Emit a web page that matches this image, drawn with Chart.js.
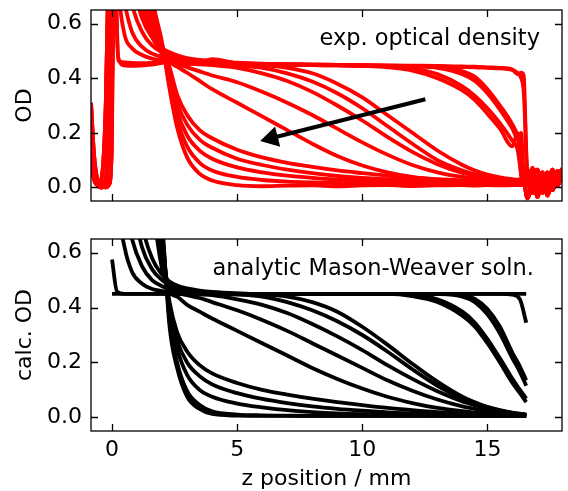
<!DOCTYPE html>
<html>
<head>
<meta charset="utf-8">
<script src="https://cdn.jsdelivr.net/npm/chart.js@4.4.1/dist/chart.umd.min.js"></script>
<style>
  html, body { margin: 0; padding: 0; background: #fff; }
  #page { position: relative; width: 568px; height: 491px; }
  #expChart { position: absolute; left: 0; top: 0; }
  #calcChart { position: absolute; left: 0; top: 210px; }
</style>
</head>
<body>
<div id="page">
  <canvas id="expChart" width="568" height="210"></canvas>
  <canvas id="calcChart" width="568" height="281"></canvas>
</div>
<script>
// axes
const zTicks = [0, 5, 10, 15];
const odTicks = [0, 0.2, 0.4, 0.6];
const zRange = [-0.84, 17.98];
const odRange = [-0.05, 0.65];

// ---- experimental profiles (top) ----
const zExp = [-0.84, -0.72, -0.6, -0.45, -0.25, -0.12, -0.02,
  0.1, 0.25, 0.5, 0.8, 1.2, 1.6, 2.0, 2.3, 2.6, 3, 3.5, 4, 5, 6, 7, 8, 9, 10, 11, 12, 13, 14, 14.5, 15, 15.5, 16, 16.2, 16.35, 16.45,
  16.6, 16.8, 17, 17.2, 17.4, 17.6, 17.8, 17.98];

// meniscus region left of the cell
const menA = [0.31, 0.12, 0.035, 0.01, 0.005, 0.02, 0.3];
const menB = [0.2, 0.06, 0.015, 0.0, 0.01, 0.15, 0.7];
const menC = [0.15, 0.04, 0.01, 0.005, 0.03, 0.35, 0.95];
const menD = [0.25, 0.09, 0.025, 0.02, 0.0, 0.01, 0.12];
const menE = [0.1, 0.03, 0.01, 0.02, 0.3, 0.9, 1.2];
// noisy region right of the cell
const tailA = [0.01, 0.06, -0.035, 0.045, 0.0, 0.065, 0.01, 0.07];
const tailB = [0.05, -0.02, 0.04, -0.005, 0.055, 0.015, 0.06, 0.02];
const tailC = [-0.04, 0.03, 0.065, -0.02, 0.04, -0.01, 0.05, 0.06];
const tailD = [0.025, 0.07, -0.01, 0.055, -0.03, 0.04, 0.005, 0.05];

const expA = menA.concat([0.8, 0.465, 0.458, 0.456, 0.455, 0.456, 0.458, 0.466, 0.457, 0.455, 0.457, 0.47, 0.455, 0.452, 0.451, 0.45, 0.449, 0.448, 0.447, 0.446, 0.445, 0.443, 0.442, 0.44, 0.438, 0.432, 0.415, 0.42, 0.41], tailA);
const expB = menD.concat([0.85, 0.475, 0.447, 0.445, 0.447, 0.45, 0.456, 0.462, 0.455, 0.452, 0.454, 0.46, 0.452, 0.45, 0.449, 0.448, 0.447, 0.446, 0.445, 0.444, 0.443, 0.441, 0.44, 0.438, 0.436, 0.43, 0.42, 0.4, 0.35], tailB);
const expC1 = menB.concat([0.95, 0.72, 0.56, 0.51, 0.485, 0.472, 0.466, 0.47, 0.46, 0.457, 0.456, 0.458, 0.452, 0.45, 0.449, 0.448, 0.447, 0.446, 0.445, 0.444, 0.44, 0.425, 0.405, 0.36, 0.3, 0.23, 0.19, 0.12, 0.06], tailC);
const expC2 = menC.concat([1.05, 0.85, 0.68, 0.57, 0.515, 0.49, 0.478, 0.474, 0.466, 0.461, 0.458, 0.46, 0.453, 0.451, 0.45, 0.449, 0.448, 0.447, 0.446, 0.445, 0.438, 0.415, 0.39, 0.345, 0.285, 0.215, 0.18, 0.2, 0.03], tailD);
const expC3 = menA.concat([1.2, 1.05, 0.83, 0.67, 0.57, 0.52, 0.495, 0.485, 0.476, 0.468, 0.463, 0.462, 0.455, 0.452, 0.451, 0.45, 0.449, 0.447, 0.444, 0.435, 0.415, 0.37, 0.335, 0.29, 0.235, 0.17, 0.14, 0.05, 0.02], tailA);
const expC4 = menE.concat([1.3, 1.2, 0.98, 0.77, 0.62, 0.55, 0.51, 0.495, 0.484, 0.474, 0.467, 0.465, 0.457, 0.453, 0.451, 0.45, 0.448, 0.445, 0.44, 0.428, 0.4, 0.355, 0.32, 0.27, 0.215, 0.15, 0.2, 0.04, 0.01], tailB);
const expD1 = menB.concat([1.4, 1.3, 1.05, 0.8, 0.64, 0.55, 0.49, 0.47, 0.462, 0.458, 0.457, 0.46, 0.453, 0.448, 0.438, 0.418, 0.38, 0.33, 0.265, 0.2, 0.135, 0.082, 0.062, 0.047, 0.037, 0.03, 0.028, 0.03, 0.02], tailC);
const expD2 = menC.concat([1.4, 1.35, 1.1, 0.85, 0.67, 0.56, 0.495, 0.47, 0.461, 0.457, 0.455, 0.455, 0.446, 0.438, 0.418, 0.388, 0.345, 0.29, 0.225, 0.16, 0.1, 0.062, 0.048, 0.038, 0.031, 0.027, 0.025, 0.025, 0.02], tailD);
const expD3 = menD.concat([1.4, 1.4, 1.15, 0.9, 0.7, 0.575, 0.5, 0.468, 0.458, 0.454, 0.451, 0.448, 0.438, 0.418, 0.39, 0.35, 0.3, 0.245, 0.185, 0.13, 0.085, 0.053, 0.043, 0.035, 0.029, 0.025, 0.024, 0.024, 0.02], tailA);
const expD4 = menE.concat([1.4, 1.45, 1.2, 0.95, 0.73, 0.59, 0.5, 0.465, 0.452, 0.44, 0.425, 0.41, 0.385, 0.35, 0.31, 0.265, 0.215, 0.165, 0.12, 0.082, 0.055, 0.038, 0.033, 0.03, 0.027, 0.025, 0.024, 0.024, 0.02], tailB);
const expD5 = menA.concat([1.4, 1.5, 1.25, 1.0, 0.75, 0.6, 0.505, 0.46, 0.442, 0.42, 0.39, 0.36, 0.31, 0.26, 0.21, 0.16, 0.115, 0.08, 0.055, 0.038, 0.028, 0.022, 0.02, 0.019, 0.018, 0.018, 0.018, 0.02, 0.02], tailC);
const expE1 = menB.concat([1.5, 1.55, 1.3, 1.05, 0.78, 0.62, 0.51, 0.44, 0.34, 0.265, 0.21, 0.18, 0.138, 0.11, 0.09, 0.075, 0.062, 0.052, 0.043, 0.036, 0.03, 0.026, 0.024, 0.022, 0.021, 0.02, 0.02, 0.02, 0.02], tailD);
const expE2 = menC.concat([1.5, 1.6, 1.35, 1.1, 0.82, 0.63, 0.515, 0.42, 0.31, 0.23, 0.175, 0.145, 0.105, 0.082, 0.065, 0.052, 0.042, 0.035, 0.03, 0.026, 0.022, 0.02, 0.019, 0.018, 0.018, 0.018, 0.018, 0.018, 0.018], tailA);
const expE3 = menE.concat([1.5, 1.7, 1.45, 1.2, 0.86, 0.64, 0.52, 0.4, 0.28, 0.19, 0.135, 0.105, 0.073, 0.055, 0.043, 0.035, 0.029, 0.025, 0.022, 0.02, 0.018, 0.017, 0.016, 0.016, 0.016, 0.016, 0.016, 0.016, 0.016], tailB);
const expE4 = menD.concat([1.5, 1.8, 1.55, 1.3, 0.92, 0.67, 0.525, 0.38, 0.25, 0.15, 0.09, 0.062, 0.038, 0.027, 0.021, 0.018, 0.016, 0.015, 0.014, 0.014, 0.013, 0.013, 0.013, 0.013, 0.013, 0.013, 0.013, 0.013, 0.013], tailC);
const expE5 = menB.concat([1.5, 1.9, 1.65, 1.4, 1.0, 0.7, 0.53, 0.36, 0.22, 0.11, 0.05, 0.025, 0.008, 0.004, 0.006, 0.007, 0.004, 0.007, 0.008, 0.005, 0.007, 0.008, 0.006, 0.008, 0.007, 0.008, 0.008, 0.008, 0.01], tailD);

const expProfiles = [expA, expB, expC1, expC2, expC3, expC4, expD1, expD2, expD3, expD4, expD5, expE1, expE2, expE3, expE4, expE5];

// ---- analytic Mason-Weaver profiles (bottom) ----
const zCalc = [0, 0.2, 0.5, 0.8, 1.2, 1.6, 2.0, 2.3, 2.6, 3, 3.5, 4, 5, 6, 7, 8, 9, 10, 11, 12, 13, 14, 14.5, 15, 15.5, 16, 16.3, 16.55];

const calcA = [0.45, 0.45, 0.45, 0.45, 0.45, 0.45, 0.45, 0.45, 0.45, 0.45, 0.45, 0.45, 0.45, 0.45, 0.45, 0.45, 0.45, 0.45, 0.45, 0.45, 0.45, 0.45, 0.45, 0.45, 0.45, 0.45, 0.45, 0.45];
const calcB = [0.575, 0.458, 0.45, 0.45, 0.45, 0.45, 0.45, 0.45, 0.45, 0.45, 0.45, 0.45, 0.45, 0.45, 0.45, 0.45, 0.45, 0.45, 0.45, 0.45, 0.45, 0.45, 0.45, 0.45, 0.45, 0.447, 0.43, 0.345];
const calcC1 = [1.1, 0.8, 0.62, 0.53, 0.487, 0.468, 0.46, 0.456, 0.453, 0.451, 0.45, 0.45, 0.45, 0.45, 0.45, 0.45, 0.45, 0.45, 0.45, 0.45, 0.45, 0.446, 0.432, 0.395, 0.33, 0.235, 0.185, 0.135];
const calcC2 = [1.4, 1.1, 0.8, 0.65, 0.55, 0.5, 0.478, 0.468, 0.462, 0.457, 0.453, 0.451, 0.45, 0.45, 0.45, 0.45, 0.45, 0.45, 0.45, 0.45, 0.449, 0.44, 0.42, 0.375, 0.305, 0.215, 0.165, 0.115];
const calcC3 = [1.8, 1.5, 1.1, 0.8, 0.62, 0.54, 0.5, 0.482, 0.472, 0.463, 0.457, 0.454, 0.451, 0.45, 0.45, 0.45, 0.45, 0.45, 0.45, 0.446, 0.43, 0.385, 0.345, 0.285, 0.215, 0.14, 0.1, 0.068];
const calcC4 = [2.0, 1.7, 1.3, 0.95, 0.7, 0.58, 0.52, 0.495, 0.48, 0.47, 0.462, 0.457, 0.452, 0.45, 0.45, 0.45, 0.45, 0.45, 0.45, 0.442, 0.42, 0.37, 0.33, 0.27, 0.2, 0.125, 0.088, 0.055];
const calcD1 = [5, 4, 2.8, 1.9, 1.2, 0.8, 0.54, 0.47, 0.456, 0.452, 0.451, 0.45, 0.45, 0.448, 0.44, 0.42, 0.385, 0.33, 0.265, 0.195, 0.13, 0.075, 0.055, 0.038, 0.026, 0.017, 0.013, 0.01];
const calcD2 = [5, 4, 2.9, 2.0, 1.3, 0.85, 0.56, 0.47, 0.455, 0.451, 0.45, 0.45, 0.447, 0.44, 0.42, 0.39, 0.35, 0.3, 0.24, 0.175, 0.115, 0.068, 0.05, 0.035, 0.024, 0.016, 0.012, 0.01];
const calcD3 = [5, 4.2, 3.0, 2.1, 1.35, 0.88, 0.58, 0.47, 0.454, 0.45, 0.448, 0.445, 0.43, 0.41, 0.38, 0.34, 0.295, 0.245, 0.19, 0.14, 0.095, 0.058, 0.044, 0.032, 0.022, 0.015, 0.012, 0.009];
const calcD4 = [5, 4.2, 3.1, 2.2, 1.4, 0.9, 0.6, 0.468, 0.452, 0.445, 0.435, 0.42, 0.39, 0.355, 0.315, 0.27, 0.225, 0.18, 0.135, 0.097, 0.065, 0.04, 0.031, 0.023, 0.017, 0.012, 0.01, 0.008];
const calcD5 = [5, 4.4, 3.2, 2.3, 1.45, 0.93, 0.61, 0.46, 0.44, 0.41, 0.385, 0.36, 0.315, 0.27, 0.225, 0.18, 0.14, 0.105, 0.075, 0.052, 0.034, 0.022, 0.017, 0.013, 0.01, 0.008, 0.007, 0.006];
const calcE1 = [6, 5, 3.6, 2.5, 1.5, 0.96, 0.63, 0.42, 0.31, 0.24, 0.19, 0.16, 0.125, 0.1, 0.083, 0.068, 0.055, 0.044, 0.034, 0.026, 0.019, 0.014, 0.012, 0.01, 0.009, 0.008, 0.007, 0.006];
const calcE2 = [6, 5, 3.7, 2.6, 1.55, 0.98, 0.65, 0.4, 0.28, 0.2, 0.15, 0.12, 0.088, 0.067, 0.052, 0.04, 0.031, 0.024, 0.018, 0.014, 0.011, 0.009, 0.008, 0.007, 0.007, 0.007, 0.006, 0.006];
const calcE3 = [6, 5.2, 3.8, 2.7, 1.6, 1.0, 0.67, 0.38, 0.25, 0.155, 0.1, 0.075, 0.05, 0.036, 0.026, 0.019, 0.014, 0.011, 0.009, 0.008, 0.007, 0.006, 0.006, 0.006, 0.006, 0.006, 0.006, 0.006];
const calcE4 = [6, 5.2, 3.9, 2.8, 1.65, 1.03, 0.69, 0.35, 0.2, 0.095, 0.045, 0.022, 0.01, 0.007, 0.006, 0.005, 0.005, 0.005, 0.005, 0.005, 0.005, 0.005, 0.005, 0.005, 0.005, 0.005, 0.005, 0.005];
const calcE5 = [6, 5.4, 4.0, 2.9, 1.7, 1.06, 0.71, 0.33, 0.18, 0.075, 0.03, 0.012, 0.006, 0.005, 0.005, 0.005, 0.005, 0.005, 0.005, 0.005, 0.005, 0.005, 0.005, 0.005, 0.005, 0.005, 0.005, 0.005];

const calcProfiles = [calcA, calcB, calcC1, calcC2, calcC3, calcC4, calcD1, calcD2, calcD3, calcD4, calcD5, calcE1, calcE2, calcE3, calcE4, calcE5];

// arrow in the top panel, data units
const arrowFrom = [12.52, 0.323];
const arrowTo = [5.92, 0.17];

const FONT = "'DejaVu Sans', sans-serif";
Chart.defaults.font.family = FONT;
Chart.defaults.font.size = 22;
Chart.defaults.color = '#000';

function toPoints(xs, ys) {
  return xs.map((x, i) => ({ x: x, y: ys[i] }));
}

// box, inward ticks on all sides, caption, optional arrow
const frame = {
  id: 'frame',
  afterDatasetsDraw(chart, args, opts) {
    const { ctx, chartArea: a, scales } = chart;
    const x = scales.x, y = scales.y;
    ctx.save();

    if (opts.arrow) {
      const p0 = [x.getPixelForValue(opts.arrow[0][0]), y.getPixelForValue(opts.arrow[0][1])];
      const p1 = [x.getPixelForValue(opts.arrow[1][0]), y.getPixelForValue(opts.arrow[1][1])];
      const dx = p1[0] - p0[0], dy = p1[1] - p0[1];
      const len = Math.hypot(dx, dy);
      const ux = dx / len, uy = dy / len;
      const headLen = 18, headHalf = 10.5;
      const bx = p1[0] - ux * headLen, by = p1[1] - uy * headLen;
      ctx.strokeStyle = '#000';
      ctx.lineWidth = 4;
      ctx.beginPath();
      ctx.moveTo(p0[0], p0[1]);
      ctx.lineTo(bx + ux * 2, by + uy * 2);
      ctx.stroke();
      ctx.fillStyle = '#000';
      ctx.beginPath();
      ctx.moveTo(p1[0], p1[1]);
      ctx.lineTo(bx - uy * headHalf, by + ux * headHalf);
      ctx.lineTo(bx + uy * headHalf, by - ux * headHalf);
      ctx.closePath();
      ctx.fill();
    }

    ctx.fillStyle = '#000';
    ctx.font = '22.5px ' + FONT;
    ctx.textAlign = 'right';
    ctx.textBaseline = 'alphabetic';
    ctx.fillText(opts.caption, a.right - opts.captionRight, a.top + opts.captionTop);

    ctx.strokeStyle = '#000';
    ctx.lineWidth = 1.3;
    ctx.strokeRect(a.left, a.top, a.right - a.left, a.bottom - a.top);
    const tl = 7;
    ctx.beginPath();
    zTicks.forEach(v => {
      const px = Math.round(x.getPixelForValue(v)) + 0.5;
      ctx.moveTo(px, a.bottom); ctx.lineTo(px, a.bottom - tl);
      ctx.moveTo(px, a.top); ctx.lineTo(px, a.top + tl);
    });
    odTicks.forEach(v => {
      const py = Math.round(y.getPixelForValue(v)) + 0.5;
      ctx.moveTo(a.left, py); ctx.lineTo(a.left + tl, py);
      ctx.moveTo(a.right, py); ctx.lineTo(a.right - tl, py);
    });
    ctx.stroke();
    ctx.restore();
  }
};

function makePanel(canvasId, xs, profiles, color, opts) {
  return new Chart(document.getElementById(canvasId), {
    type: 'line',
    data: {
      datasets: profiles.map(p => ({
        data: toPoints(xs, p),
        borderColor: color,
        borderWidth: 3.8,
        pointRadius: 0,
        fill: false,
        cubicInterpolationMode: 'monotone',
        borderJoinStyle: 'round',
        clip: 0
      }))
    },
    options: {
      responsive: false,
      animation: false,
      events: [],
      layout: { padding: opts.padding },
      plugins: {
        legend: { display: false },
        tooltip: { enabled: false },
        frame: { caption: opts.caption, captionRight: opts.captionRight, captionTop: opts.captionTop, arrow: opts.arrow }
      },
      scales: {
        x: {
          type: 'linear',
          min: zRange[0], max: zRange[1],
          grid: { display: false, drawTicks: false },
          border: { display: false },
          ticks: { display: opts.showX, padding: 6, font: { size: 22 } },
          afterBuildTicks: s => { s.ticks = zTicks.map(v => ({ value: v })); },
          afterFit: s => { s.height = opts.xHeight; s.paddingLeft = 0; s.paddingRight = 0; },
          title: {
            display: opts.showX,
            text: 'z position / mm',
            font: { size: 22, lineHeight: 1 },
            padding: { top: 0, bottom: 1 }
          }
        },
        y: {
          type: 'linear',
          min: odRange[0], max: odRange[1],
          grid: { display: false, drawTicks: false },
          border: { display: false },
          ticks: { padding: 9, font: { size: 22 }, callback: v => v.toFixed(1) },
          afterBuildTicks: s => { s.ticks = odTicks.map(v => ({ value: v })); },
          afterFit: s => { s.width = 91; s.paddingTop = 0; s.paddingBottom = 0; },
          title: {
            display: true,
            text: opts.yTitle,
            font: { size: 22, lineHeight: 1 },
            padding: { top: 14, bottom: 0 }
          }
        }
      }
    },
    plugins: [frame]
  });
}

makePanel('expChart', zExp, expProfiles, '#ff0000', {
  padding: { left: 0, top: 10, right: 6, bottom: 9 },
  caption: 'exp. optical density',
  captionRight: 22, captionTop: 35,
  arrow: [arrowFrom, arrowTo],
  showX: false, xHeight: 0,
  yTitle: 'OD'
});

makePanel('calcChart', zCalc, calcProfiles, '#000000', {
  padding: { left: 0, top: 29, right: 6, bottom: 0 },
  caption: 'analytic Mason-Weaver soln.',
  captionRight: 28, captionTop: 36,
  arrow: null,
  showX: true, xHeight: 60,
  yTitle: 'calc. OD'
});
</script>
</body>
</html>
